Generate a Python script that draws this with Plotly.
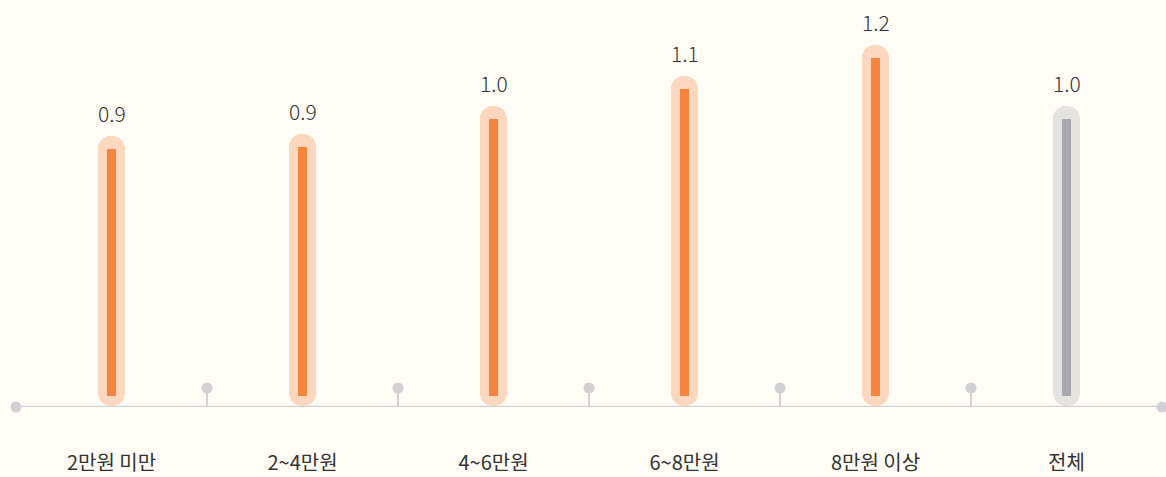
import plotly.graph_objects as go

# Average value by monthly spending bracket
categories = ["2만원 미만", "2~4만원", "4~6만원", "6~8만원", "8만원 이상", "전체"]
values = [0.89, 0.90, 1.00, 1.11, 1.22, 1.00]

# Colours: highlighted brackets vs. the overall total
inner_colors = ["#F5843E"] * 5 + ["#A8A8AE"]
pill_colors = ["#FDD8BE"] * 5 + ["#E4E3DF"]

BG = "#FFFDF5"
AXIS = "#D1D1D5"
TEXT = "#333333"

x = list(range(len(categories)))

# Geometry (data units)
unit_px = 277.0                 # pixels per value unit
axis_y = -11 / unit_px          # baseline line sits slightly below zero
pill_pad_top = 13 / unit_px
pill_bottom = -10 / unit_px
cap = 15 / unit_px              # overlap between the two halves of a pill
y_top = 396 / unit_px
pill_w = 0.141
inner_w = 0.042

pill_top = [v + pill_pad_top for v in values]

fig = go.Figure()

# Rounded "pill" behind each bar, built from two overlapping rounded bars:
# one grows upward (rounded top), the other grows downward (rounded bottom).
up_base = [pill_bottom + cap] * len(values)
fig.add_trace(go.Bar(
    x=x, y=[t - b for t, b in zip(pill_top, up_base)], base=up_base,
    width=pill_w, marker=dict(color=pill_colors, line=dict(width=0), cornerradius="50%"),
    hoverinfo="skip", showlegend=False,
))
down_base = [t - cap for t in pill_top]
fig.add_trace(go.Bar(
    x=x, y=[pill_bottom - b for b in down_base], base=down_base,
    width=pill_w, marker=dict(color=pill_colors, line=dict(width=0), cornerradius="50%"),
    hoverinfo="skip", showlegend=False,
))

# Thin value bars
fig.add_trace(go.Bar(
    x=x, y=values, base=0, width=inner_w,
    marker=dict(color=inner_colors, line=dict(width=0)),
    showlegend=False,
))

# Separator stems between categories with a round head
sep_x = [i + 0.5 for i in range(len(categories) - 1)]
head_y = 8 / unit_px
stem_x, stem_y = [], []
for sx in sep_x:
    stem_x += [sx, sx, None]
    stem_y += [axis_y, head_y, None]
fig.add_trace(go.Scatter(
    x=stem_x, y=stem_y, mode="lines", line=dict(color=AXIS, width=2),
    hoverinfo="skip", showlegend=False, cliponaxis=False,
))
fig.add_trace(go.Scatter(
    x=sep_x, y=[head_y] * len(sep_x), mode="markers",
    marker=dict(color=AXIS, size=11), hoverinfo="skip", showlegend=False, cliponaxis=False,
))

# Baseline with dots at both ends
fig.add_trace(go.Scatter(
    x=[-0.5, len(categories) - 0.5], y=[axis_y, axis_y], mode="lines+markers",
    line=dict(color=AXIS, width=2.5), marker=dict(color=AXIS, size=11),
    hoverinfo="skip", showlegend=False, cliponaxis=False,
))

# Value labels above each bar
for xi, v in zip(x, values):
    fig.add_annotation(
        x=xi, y=v, text=f"{v:.1f}", showarrow=False, yanchor="middle", yshift=36,
        font=dict(family="Noto Sans CJK KR, Noto Sans, sans-serif",
                  size=21, color=TEXT, weight=300),
    )

fig.update_layout(
    width=1166, height=477,
    margin=dict(l=16, r=4, t=0, b=70),
    paper_bgcolor=BG, plot_bgcolor=BG,
    barmode="overlay", bargap=0,
    font=dict(family="Noto Sans CJK KR, Noto Sans, sans-serif", color=TEXT),
    xaxis=dict(
        range=[-0.5, len(categories) - 0.5], tickmode="array", tickvals=x, ticktext=categories,
        showgrid=False, zeroline=False, showline=False, ticks="",
        tickfont=dict(size=20, color=TEXT), ticklabelstandoff=42, fixedrange=True,
    ),
    yaxis=dict(range=[axis_y, y_top], visible=False, fixedrange=True),
)

fig.write_html("out.html")
